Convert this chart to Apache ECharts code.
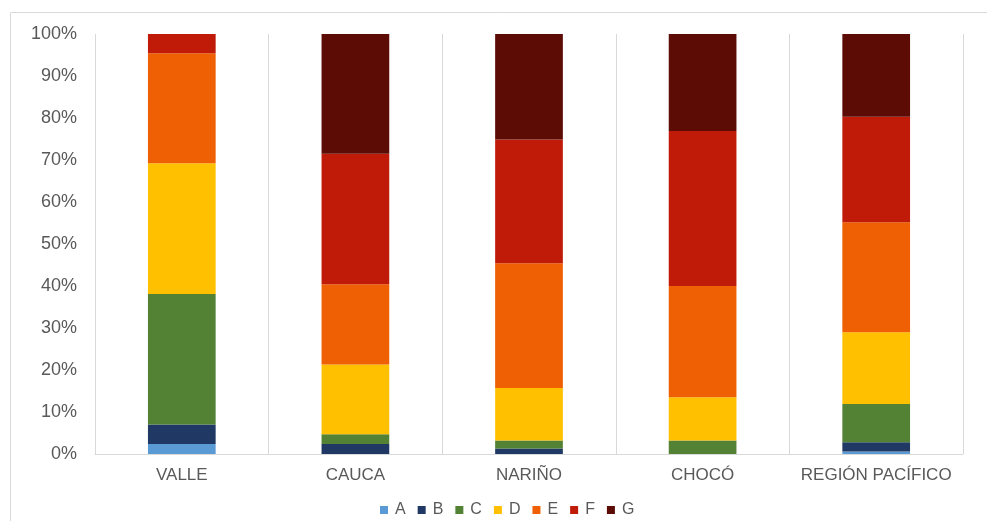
<!DOCTYPE html>
<html><head><meta charset="utf-8">
<script src="https://cdn.jsdelivr.net/npm/echarts@6/dist/echarts.min.js"></script>
<style>html,body{margin:0;padding:0;background:#fff}#c{width:987px;height:521px}</style>
</head><body><div id="c"></div>
<script>
const categories = ['VALLE', 'CAUCA', 'NARIÑO', 'CHOCÓ', 'REGIÓN PACÍFICO'];
const seriesNames = ['A', 'B', 'C', 'D', 'E', 'F', 'G'];
const A = [2.4, 0, 0, 0, 0.6];
const B = [4.6, 2.4, 1.3, 0, 2.2];
const C = [31.1, 2.3, 1.9, 3.2, 9.1];
const D = [31.1, 16.6, 12.5, 10.3, 17.1];
const E = [26.2, 19.1, 29.7, 26.5, 26.2];
const F = [4.6, 31.1, 29.5, 36.9, 25.1];
const G = [0, 28.5, 25.1, 23.1, 19.7];
const yTicks = ['0%', '10%', '20%', '30%', '40%', '50%', '60%', '70%', '80%', '90%', '100%'];

const values = [A, B, C, D, E, F, G];
const colors = ['#5B9BD5', '#1F3864', '#548235', '#FFC000', '#EF5F03', '#C01A09', '#5C0B05'];
const font = 'Liberation Sans, Arial, sans-serif';

const chart = echarts.init(document.getElementById('c'));
chart.setOption({
  animation: false,
  graphic: [{
    type: 'rect', left: 8, top: 10, shape: { width: 990, height: 530 },
    style: { fill: 'none', stroke: '#d9d9d9', lineWidth: 1 }, silent: true, z: -1
  }],
  grid: { left: 95, right: 24, top: 34, bottom: 67, containLabel: false },
  legend: {
    bottom: -2, left: 375, itemWidth: 8, itemHeight: 8, itemGap: 12,
    icon: 'rect',
    textStyle: { fontFamily: font, fontSize: 16, color: '#595959', padding: [0, 0, 0, 2] },
    data: seriesNames
  },
  xAxis: {
    type: 'category', data: categories,
    axisLine: { lineStyle: { color: '#d9d9d9', width: 1 } },
    axisTick: { show: false },
    splitLine: { show: true, interval: 0, lineStyle: { color: '#d9d9d9', width: 1 } },
    axisLabel: { interval: 0, fontFamily: font, fontSize: 17, color: '#595959', margin: 13 }
  },
  yAxis: {
    type: 'value', min: 0, max: 100, interval: 10,
    axisLine: { show: false }, axisTick: { show: false },
    splitLine: { show: false },
    axisLabel: {
      fontFamily: font, fontSize: 18, color: '#595959', margin: 18,
      formatter: (v) => yTicks[Math.round(v / 10)]
    }
  },
  series: seriesNames.map((n, i) => ({
    name: n, type: 'bar', stack: 'total', barWidth: '39%',
    data: values[i],
    itemStyle: { color: colors[i] }
  }))
});
</script></body></html>
